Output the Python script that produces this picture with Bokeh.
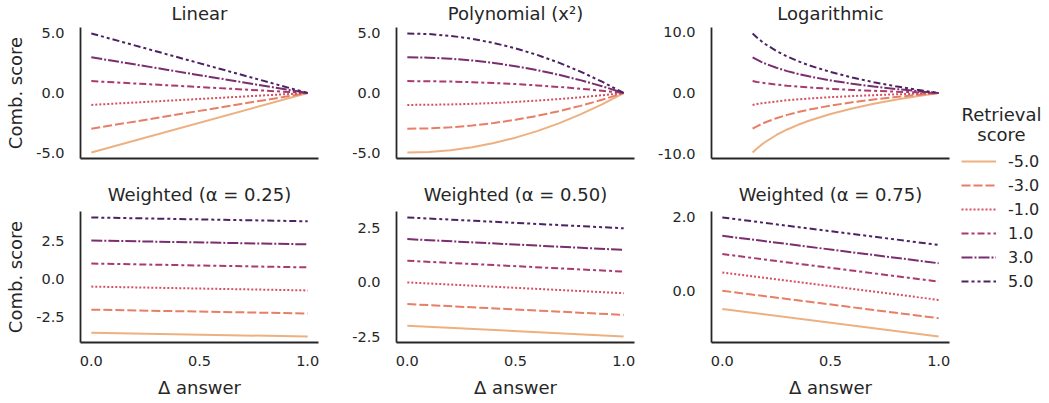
from bokeh.plotting import figure
from bokeh.layouts import row, column
from bokeh.models import Range1d, FixedTicker, PrintfTickFormatter, Legend, LegendItem, Label
from bokeh.embed import file_html
from bokeh.resources import INLINE

# ---------------- data ----------------
retrieval_scores = [-5.0, -3.0, -1.0, 1.0, 3.0, 5.0]
legend_labels = ["-5.0", "-3.0", "-1.0", "1.0", "3.0", "5.0"]
legend_title = ["Retrieval", "score"]
colors = ["#edb081", "#e77e65", "#d55060", "#aa3a6d", "#7a2e6f", "#4b2362"]
dashes = ["solid", "9 3", "2 2", "7 3 3 3", "11 2 2 2", "7 3 3 3 3 3"]

x_ticks = [0.0, 0.5, 1.0]

linear_x = [0.0, 1.0]
linear_y = [
    [-5.0, 0.0],
    [-3.0, 0.0],
    [-1.0, 0.0],
    [1.0, 0.0],
    [3.0, 0.0],
    [5.0, 0.0],
]
linear_ticks = [-5.0, 0.0, 5.0]

poly_x = [0.0, 0.1, 0.2, 0.3, 0.4, 0.5, 0.6, 0.7, 0.8, 0.9, 1.0]
poly_y = [
    [-5.0, -4.95, -4.8, -4.55, -4.2, -3.75, -3.2, -2.55, -1.8, -0.95, 0.0],
    [-3.0, -2.97, -2.88, -2.73, -2.52, -2.25, -1.92, -1.53, -1.08, -0.57, 0.0],
    [-1.0, -0.99, -0.96, -0.91, -0.84, -0.75, -0.64, -0.51, -0.36, -0.19, 0.0],
    [1.0, 0.99, 0.96, 0.91, 0.84, 0.75, 0.64, 0.51, 0.36, 0.19, 0.0],
    [3.0, 2.97, 2.88, 2.73, 2.52, 2.25, 1.92, 1.53, 1.08, 0.57, 0.0],
    [5.0, 4.95, 4.8, 4.55, 4.2, 3.75, 3.2, 2.55, 1.8, 0.95, 0.0],
]
poly_ticks = [-5.0, 0.0, 5.0]

log_x = [0.14, 0.16, 0.18, 0.2, 0.25, 0.3, 0.35, 0.4, 0.5, 0.6, 0.7, 0.8, 0.9, 1.0]
log_y = [
    [-9.83, -9.16, -8.57, -8.05, -6.93, -6.02, -5.25, -4.58, -3.47, -2.55, -1.78, -1.12, -0.53, 0.0],
    [-5.9, -5.5, -5.14, -4.83, -4.16, -3.61, -3.15, -2.75, -2.08, -1.53, -1.07, -0.67, -0.32, 0.0],
    [-1.97, -1.83, -1.71, -1.61, -1.39, -1.2, -1.05, -0.92, -0.69, -0.51, -0.36, -0.22, -0.11, 0.0],
    [1.97, 1.83, 1.71, 1.61, 1.39, 1.2, 1.05, 0.92, 0.69, 0.51, 0.36, 0.22, 0.11, 0.0],
    [5.9, 5.5, 5.14, 4.83, 4.16, 3.61, 3.15, 2.75, 2.08, 1.53, 1.07, 0.67, 0.32, 0.0],
    [9.83, 9.16, 8.57, 8.05, 6.93, 6.02, 5.25, 4.58, 3.47, 2.55, 1.78, 1.12, 0.53, 0.0],
]
log_ticks = [-10.0, 0.0, 10.0]

w25_x = [0.0, 1.0]
w25_y = [
    [-3.5, -3.75],
    [-2.0, -2.25],
    [-0.5, -0.75],
    [1.0, 0.75],
    [2.5, 2.25],
    [4.0, 3.75],
]
w25_ticks = [-2.5, 0.0, 2.5]

w50_x = [0.0, 1.0]
w50_y = [
    [-2.0, -2.5],
    [-1.0, -1.5],
    [0.0, -0.5],
    [1.0, 0.5],
    [2.0, 1.5],
    [3.0, 2.5],
]
w50_ticks = [-2.5, 0.0, 2.5]

w75_x = [0.0, 1.0]
w75_y = [
    [-0.5, -1.25],
    [0.0, -0.75],
    [0.5, -0.25],
    [1.0, 0.25],
    [1.5, 0.75],
    [2.0, 1.25],
]
w75_ticks = [0.0, 2.0]

titles = ["Linear", "Polynomial (x\u00b2)", "Logarithmic",
          "Weighted (\u03b1 = 0.25)", "Weighted (\u03b1 = 0.50)", "Weighted (\u03b1 = 0.75)"]
y_label = "Comb. score"
x_label = "\u0394 answer"

# ---------------- style ----------------
FONT = "DejaVu Sans"
TXT = "#262626"
FRAME_W, FRAME_H = 238, 131
LEFTS = [80, 68, 67]
RIGHT = 10


def make_panel(xs, ys, yticks, left, top, bottom, show_ylabel, show_xlabels):
    lo = min(min(s) for s in ys)
    hi = max(max(s) for s in ys)
    pad = (hi - lo) * 0.05
    p = figure(frame_width=FRAME_W, frame_height=FRAME_H, title=None,
               x_range=Range1d(-0.05, 1.05), y_range=Range1d(lo - pad, hi + pad),
               output_backend="svg", toolbar_location=None,
               min_border_left=left, min_border_right=RIGHT,
               min_border_top=top, min_border_bottom=bottom,
               background_fill_color="white", border_fill_color="white")
    p.outline_line_color = None
    p.grid.visible = False

    for ys_i, c, d in zip(ys, colors, dashes):
        p.line(x=xs, y=ys_i, line_color=c, line_dash=d, line_width=2)

    for ax in (p.xaxis[0], p.yaxis[0]):
        ax.axis_line_color = TXT
        ax.axis_line_width = 1.8
        ax.major_tick_out = 0
        ax.major_tick_in = 0
        ax.minor_tick_out = 0
        ax.minor_tick_in = 0
        ax.major_label_text_font = FONT
        ax.major_label_text_font_size = "14.5px"
        ax.major_label_text_color = TXT
        ax.axis_label_text_font = FONT
        ax.axis_label_text_font_size = "18px"
        ax.axis_label_text_font_style = "normal"
        ax.axis_label_text_color = TXT
        ax.formatter = PrintfTickFormatter(format="%.1f")

    p.yaxis[0].ticker = FixedTicker(ticks=yticks)
    p.yaxis[0].major_label_standoff = 16
    if show_ylabel:
        p.yaxis[0].axis_label = y_label
        p.yaxis[0].axis_label_standoff = 7
    if show_xlabels:
        p.xaxis[0].ticker = FixedTicker(ticks=x_ticks)
        p.xaxis[0].major_label_standoff = 13
        p.xaxis[0].axis_label = x_label
        p.xaxis[0].axis_label_standoff = 8
    else:
        p.xaxis[0].ticker = FixedTicker(ticks=[])
        p.xaxis[0].major_label_standoff = 0
    return p


def make_title_strip(text, left, height, mid):
    w = left + FRAME_W + RIGHT
    s = figure(width=w, height=height, x_range=Range1d(0, w), y_range=Range1d(0, height),
               output_backend="svg", toolbar_location=None, min_border=0, title=None,
               background_fill_color="white", border_fill_color="white")
    s.outline_line_color = None
    s.axis.visible = False
    s.grid.visible = False
    s.add_layout(Label(x=left + FRAME_W / 2, y=mid, text=text,
                       text_align="center", text_baseline="middle",
                       text_font=FONT, text_font_size="18px", text_color=TXT))
    return s


t_row1 = [make_title_strip(titles[i], LEFTS[i], 25, 12) for i in range(3)]
t_row2 = [make_title_strip(titles[3 + i], LEFTS[i], 41, 14.8) for i in range(3)]

p1 = make_panel(linear_x, linear_y, linear_ticks, LEFTS[0], 2, 10, True, False)
p2 = make_panel(poly_x, poly_y, poly_ticks, LEFTS[1], 2, 10, False, False)
p3 = make_panel(log_x, log_y, log_ticks, LEFTS[2], 2, 10, False, False)
p4 = make_panel(w25_x, w25_y, w25_ticks, LEFTS[0], 2, 61, True, True)
p5 = make_panel(w50_x, w50_y, w50_ticks, LEFTS[1], 2, 61, False, True)
p6 = make_panel(w75_x, w75_y, w75_ticks, LEFTS[2], 2, 61, False, True)

# ---------------- legend panel ----------------
lf = figure(width=90, height=403, x_range=Range1d(0, 90), y_range=Range1d(0, 403),
            output_backend="svg", toolbar_location=None, min_border=0, title=None,
            background_fill_color="white", border_fill_color="white")
lf.outline_line_color = None
lf.axis.visible = False
lf.grid.visible = False
items = []
for lab, c, d in zip(legend_labels, colors, dashes):
    r = lf.line(x=[float("nan")], y=[float("nan")], line_color=c, line_dash=d, line_width=2)
    items.append(LegendItem(label=lab, renderers=[r]))
leg = Legend(items=items, location=(2, 112), orientation="vertical",
             glyph_width=35, glyph_height=20, label_height=20, spacing=4,
             label_standoff=12, padding=0, margin=0,
             border_line_color=None, background_fill_alpha=0,
             label_text_font=FONT, label_text_font_size="16px", label_text_color=TXT)
lf.add_layout(leg)
for txt, yy in zip(legend_title, [289, 269]):
    lf.add_layout(Label(x=42, y=yy, text=txt, text_align="center", text_baseline="middle",
                        text_font=FONT, text_font_size="18px", text_color=TXT))

grid = column(row(*t_row1), row(p1, p2, p3), row(*t_row2), row(p4, p5, p6))
layout = row(grid, lf)

open("out.html", "w").write(file_html(layout, INLINE))
